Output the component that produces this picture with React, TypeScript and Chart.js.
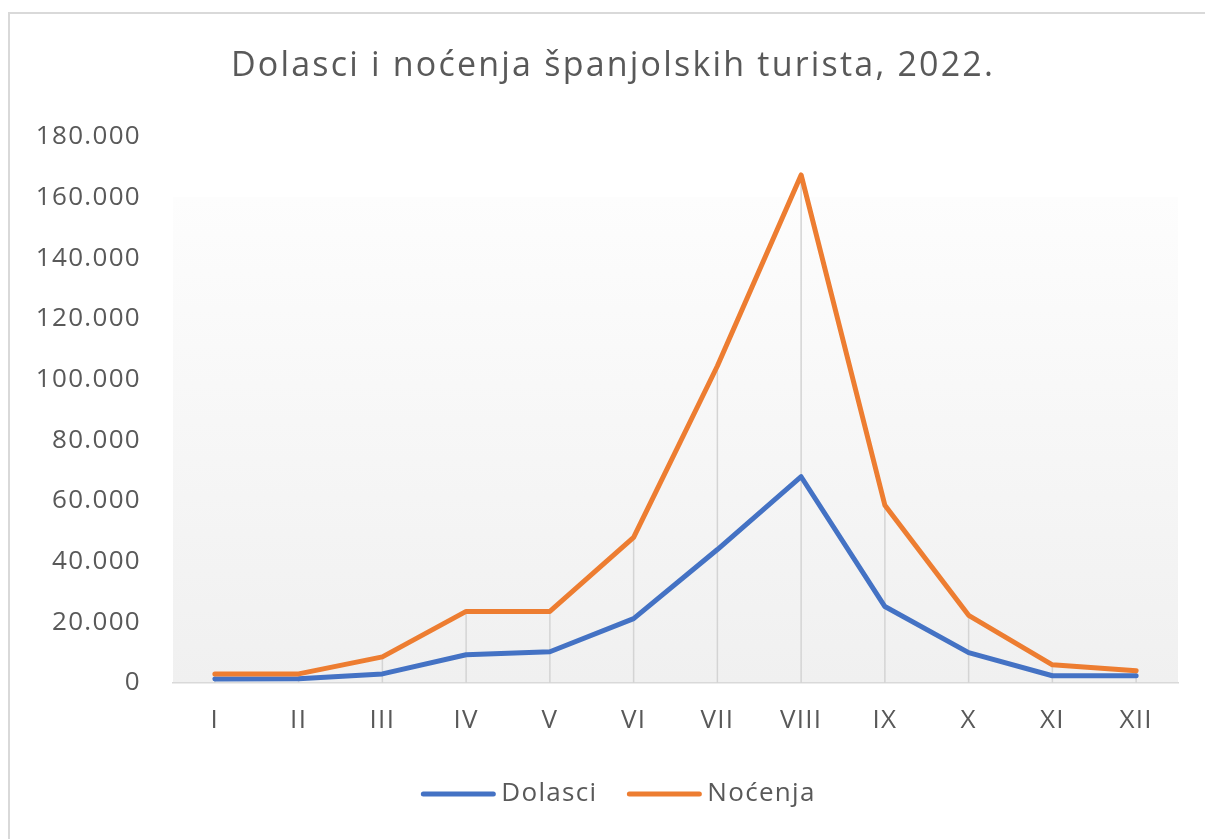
import React, { useEffect, useRef } from 'react';
import { Chart, registerables } from 'chart.js';

Chart.register(...registerables);

const TITLE = 'Dolasci i noćenja španjolskih turista, 2022.';
const CATEGORIES = ['I', 'II', 'III', 'IV', 'V', 'VI', 'VII', 'VIII', 'IX', 'X', 'XI', 'XII'];
const DOLASCI = [1300, 1400, 3000, 9300, 10300, 21200, 44000, 68000, 25200, 10000, 2400, 2400];
const NOCENJA = [3000, 3000, 8600, 23600, 23600, 48000, 104500, 167500, 58600, 22300, 6000, 4000];
const SERIES_LABELS = ['Dolasci', 'Noćenja'];
const SERIES_COLORS = ['#4472C4', '#ED7D31'];
const Y_MIN = 0;
const Y_MAX = 180000;
const Y_STEP = 20000;

const W = 1205;
const H = 839;
const FONT = '"Open Sans", "Noto Sans", sans-serif';
const TEXT_COLOR = '#595959';
const TICK_SPACING = '1.3px';

function fmt(v: number): string {
  return Math.round(v).toString().replace(/\B(?=(\d{3})+(?!\d))/g, '.');
}

const framePlugin = {
  id: 'frame',
  beforeUpdate(chart: any) {
    chart.ctx.letterSpacing = TICK_SPACING;
  },
  beforeDraw(chart: any) {
    const ctx = chart.ctx;
    const { left, right, top, bottom } = chart.chartArea;
    ctx.save();
    ctx.fillStyle = '#ffffff';
    ctx.fillRect(0, 0, chart.width, chart.height);
    ctx.strokeStyle = '#d9d9d9';
    ctx.lineWidth = 2;
    ctx.strokeRect(9, 13, chart.width + 100, chart.height + 100);
    const gTop = top + (bottom - top) * 0.11;
    const g = ctx.createLinearGradient(0, gTop, 0, bottom);
    g.addColorStop(0, '#fdfdfd');
    g.addColorStop(1, '#f0f0f0');
    ctx.fillStyle = g;
    ctx.fillRect(left, gTop, right - left, bottom - gTop);
    ctx.restore();
    ctx.letterSpacing = TICK_SPACING;
  },
};

const dropLinesPlugin = {
  id: 'dropLines',
  beforeDatasetsDraw(chart: any) {
    const ctx = chart.ctx;
    const bottom = chart.chartArea.bottom;
    const metas = chart.data.datasets.map((_: any, i: number) => chart.getDatasetMeta(i));
    ctx.save();
    ctx.strokeStyle = '#d4d4d4';
    ctx.lineWidth = 1.5;
    for (let i = 0; i < CATEGORIES.length; i++) {
      let minY = bottom;
      let x = 0;
      metas.forEach((m: any) => {
        const el = m.data[i];
        if (el) {
          x = el.x;
          if (el.y < minY) minY = el.y;
        }
      });
      ctx.beginPath();
      ctx.moveTo(x, minY);
      ctx.lineTo(x, bottom);
      ctx.stroke();
    }
    ctx.restore();
  },
};

const textPlugin = {
  id: 'titleLegend',
  afterDraw(chart: any) {
    const ctx = chart.ctx;
    ctx.save();
    ctx.font = `34px ${FONT}`;
    ctx.letterSpacing = '2.2px';
    ctx.fillStyle = TEXT_COLOR;
    ctx.textAlign = 'center';
    ctx.textBaseline = 'middle';
    ctx.fillText(TITLE, 613, 66);

    ctx.font = `26px ${FONT}`;
    ctx.letterSpacing = TICK_SPACING;
    ctx.textAlign = 'left';
    const lineLen = 70;
    const gapLT = 8;
    const gapItems = 32;
    const widths = SERIES_LABELS.map((l) => ctx.measureText(l).width);
    const total =
      widths.reduce((s, w) => s + lineLen + gapLT + w, 0) + gapItems * (SERIES_LABELS.length - 1);
    let x = 619.5 - total / 2;
    const y = 794;
    SERIES_LABELS.forEach((label, i) => {
      ctx.strokeStyle = SERIES_COLORS[i];
      ctx.lineWidth = 5;
      ctx.lineCap = 'round';
      ctx.beginPath();
      ctx.moveTo(x, y);
      ctx.lineTo(x + lineLen, y);
      ctx.stroke();
      ctx.fillStyle = TEXT_COLOR;
      ctx.fillText(label, x + lineLen + gapLT, y);
      x += lineLen + gapLT + widths[i] + gapItems;
    });
    ctx.restore();
  },
};

export default function App() {
  const ref = useRef<HTMLCanvasElement | null>(null);

  useEffect(() => {
    if (!ref.current) return;
    const chart = new Chart(ref.current, {
      type: 'line',
      data: {
        labels: CATEGORIES,
        datasets: [
          {
            label: SERIES_LABELS[0],
            data: DOLASCI,
            borderColor: SERIES_COLORS[0],
            backgroundColor: SERIES_COLORS[0],
            borderWidth: 5,
            pointRadius: 0,
            tension: 0,
            borderJoinStyle: 'round',
            borderCapStyle: 'round',
            order: 1,
          },
          {
            label: SERIES_LABELS[1],
            data: NOCENJA,
            borderColor: SERIES_COLORS[1],
            backgroundColor: SERIES_COLORS[1],
            borderWidth: 5,
            pointRadius: 0,
            tension: 0,
            borderJoinStyle: 'round',
            borderCapStyle: 'round',
            order: 0,
          },
        ],
      },
      options: {
        animation: false,
        responsive: false,
        devicePixelRatio: 1,
        events: [],
        layout: {
          padding: { left: 0, top: 137, right: W - 1178, bottom: H - 683 - 60 },
        },
        plugins: {
          legend: { display: false },
          title: { display: false },
          tooltip: { enabled: false },
        },
        scales: {
          x: {
            type: 'category',
            offset: true,
            grid: { display: false, drawTicks: false },
            border: { display: true, color: '#d9d9d9', width: 1.5 },
            ticks: {
              color: TEXT_COLOR,
              font: { family: FONT, size: 26 },
              padding: 22,
              maxRotation: 0,
              autoSkip: false,
            },
            afterFit: (s: any) => {
              s.height = 60;
            },
          },
          y: {
            min: Y_MIN,
            max: Y_MAX,
            grid: { display: false, drawTicks: false },
            border: { display: false },
            ticks: {
              stepSize: Y_STEP,
              color: TEXT_COLOR,
              font: { family: FONT, size: 26 },
              padding: 32,
              callback: (v: any) => fmt(Number(v)),
            },
            afterFit: (s: any) => {
              s.width = 173;
            },
          },
        },
      },
      plugins: [framePlugin, dropLinesPlugin, textPlugin],
    } as any);
    return () => chart.destroy();
  }, []);

  return (
    <div style={{ position: 'fixed', left: 0, top: 0, width: W, height: H, overflow: 'hidden', background: '#fff' }}>
      <canvas ref={ref} width={W} height={H} style={{ display: 'block', width: W, height: H }} />
    </div>
  );
}
